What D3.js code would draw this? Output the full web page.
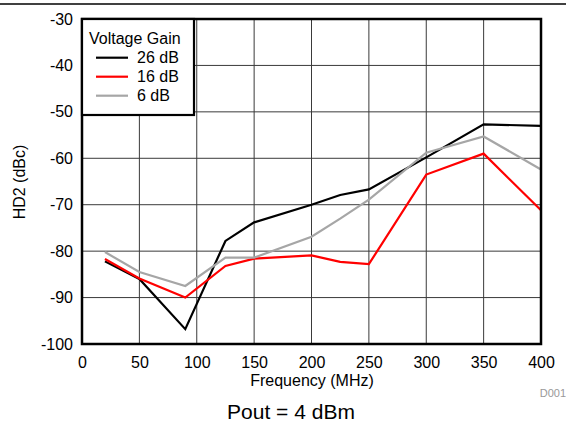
<!DOCTYPE html>
<html>
<head>
<meta charset="utf-8">
<script src="https://cdn.jsdelivr.net/npm/d3@7"></script>
<style>
  body { margin: 0; background: #fff; }
  svg { font-family: "Liberation Sans", Arial, sans-serif; }
</style>
</head>
<body>
<div id="chart"></div>
<script>
// Data
const freqs = [20, 50, 90, 125, 150, 200, 225, 250, 300, 350, 400]
const gain26 = [-82.2, -86.0, -96.8, -77.8, -73.8, -70.0, -67.9, -66.7, -59.8, -52.7, -53.0]
const gain16 = [-81.7, -85.9, -90.0, -83.2, -81.6, -80.9, -82.3, -82.8, -63.5, -59.0, -71.2]
const gain6 = [-80.2, -84.5, -87.5, -81.4, -81.4, -76.9, -73.0, -68.9, -58.8, -55.3, -62.4]
const seriesLabels = ['26 dB', '16 dB', '6 dB']
const seriesColors = ['#000000', '#ff0000', '#a6a6a6']
const xTicks = [0, 50, 100, 150, 200, 250, 300, 350, 400]
const yTicks = [-100, -90, -80, -70, -60, -50, -40, -30]

const chartWidth = 566, chartHeight = 425
const plotLeft = 82, plotRight = 541, plotTop = 19, plotBottom = 344
const fontFamily = '"Liberation Sans", Arial, sans-serif'

const svg = d3.select('#chart').append('svg')
    .attr('width', chartWidth)
    .attr('height', chartHeight)

// Top rule across the page
svg.append('line')
    .attr('x1', 0).attr('x2', chartWidth)
    .attr('y1', 4).attr('y2', 4)
    .style('stroke', '#000')
    .style('stroke-width', 1.5)

// Scales
const xScale = d3.scaleLinear().domain([0, 400]).range([plotLeft, plotRight])
const yScale = d3.scaleLinear().domain([-100, -30]).range([plotBottom, plotTop])

// Grid
svg.append('g').selectAll('line')
    .data(xTicks.slice(1, -1))
    .enter().append('line')
    .attr('x1', d=>xScale(d)).attr('x2', d=>xScale(d))
    .attr('y1', plotTop).attr('y2', plotBottom)
    .style('stroke', '#3a3a3a')
    .style('stroke-width', 1)

svg.append('g').selectAll('line')
    .data(yTicks.slice(1, -1))
    .enter().append('line')
    .attr('x1', plotLeft).attr('x2', plotRight)
    .attr('y1', d=>yScale(d)).attr('y2', d=>yScale(d))
    .style('stroke', '#3a3a3a')
    .style('stroke-width', 1)

// Axes (labels only, plain hyphen for negatives)
const xAxis = d3.axisBottom(xScale).tickValues(xTicks).tickSize(0).tickPadding(13)
    .tickFormat(d=>String(d))
const yAxis = d3.axisLeft(yScale).tickValues(yTicks).tickSize(0).tickPadding(9)
    .tickFormat(d=>String(d))

svg.append('g')
    .attr('transform', 'translate(0,' + plotBottom + ')')
    .call(xAxis)
    .call(g=>g.select('.domain').remove())
    .selectAll('text')
    .style('font-size', '16px')
    .style('fill', '#000')
    .style('font-family', fontFamily)

svg.append('g')
    .attr('transform', 'translate(' + plotLeft + ',0)')
    .call(yAxis)
    .call(g=>g.select('.domain').remove())
    .selectAll('text')
    .style('font-size', '16px')
    .style('fill', '#000')
    .style('font-family', fontFamily)

// Lines
const dataArrays = [gain26, gain16, gain6]
const line = d3.line()
    .x((_, i)=>xScale(freqs[i]))
    .y(d=>yScale(d))

svg.append('g').selectAll('.line')
    .data(dataArrays)
    .enter().append('path')
    .classed('line', true)
    .attr('d', line)
    .style('fill', 'none')
    .style('stroke', (_, i)=>seriesColors[i])
    .style('stroke-width', 2.2)

// Plot border
svg.append('rect')
    .attr('x', plotLeft).attr('y', plotTop)
    .attr('width', plotRight - plotLeft).attr('height', plotBottom - plotTop)
    .style('fill', 'none')
    .style('stroke', '#000')
    .style('stroke-width', 2.5)

// Legend
const legend = svg.append('g')
legend.append('rect')
    .attr('x', plotLeft).attr('y', plotTop)
    .attr('width', 112).attr('height', 96)
    .style('fill', '#fff')
    .style('stroke', '#000')
    .style('stroke-width', 2.2)

legend.append('text')
    .attr('x', 89).attr('y', 44)
    .style('font-size', '16px')
    .text('Voltage Gain')

seriesLabels.forEach((label, i)=>{
    const cy = 57.7 + i * 19
    legend.append('line')
        .attr('x1', 96).attr('x2', 128)
        .attr('y1', cy).attr('y2', cy)
        .style('stroke', seriesColors[i])
        .style('stroke-width', 2.2)
    legend.append('text')
        .attr('x', 137).attr('y', cy + 5.5)
        .style('font-size', '16px')
        .text(label)
})

// Axis titles
svg.append('text')
    .attr('x', 312).attr('y', 386)
    .attr('text-anchor', 'middle')
    .style('font-size', '16px')
    .text('Frequency (MHz)')

svg.append('text')
    .attr('transform', 'translate(25,' + 182 + ') rotate(-90)')
    .attr('text-anchor', 'middle')
    .style('font-size', '16px')
    .text('HD2 (dBc)')

svg.append('text')
    .attr('x', 566).attr('y', 397)
    .attr('text-anchor', 'end')
    .style('font-size', '11px')
    .style('fill', '#999')
    .text('D001')

svg.append('text')
    .attr('x', 291).attr('y', 419)
    .attr('text-anchor', 'middle')
    .style('font-size', '21px')
    .text('Pout = 4 dBm')
</script>
</body>
</html>
